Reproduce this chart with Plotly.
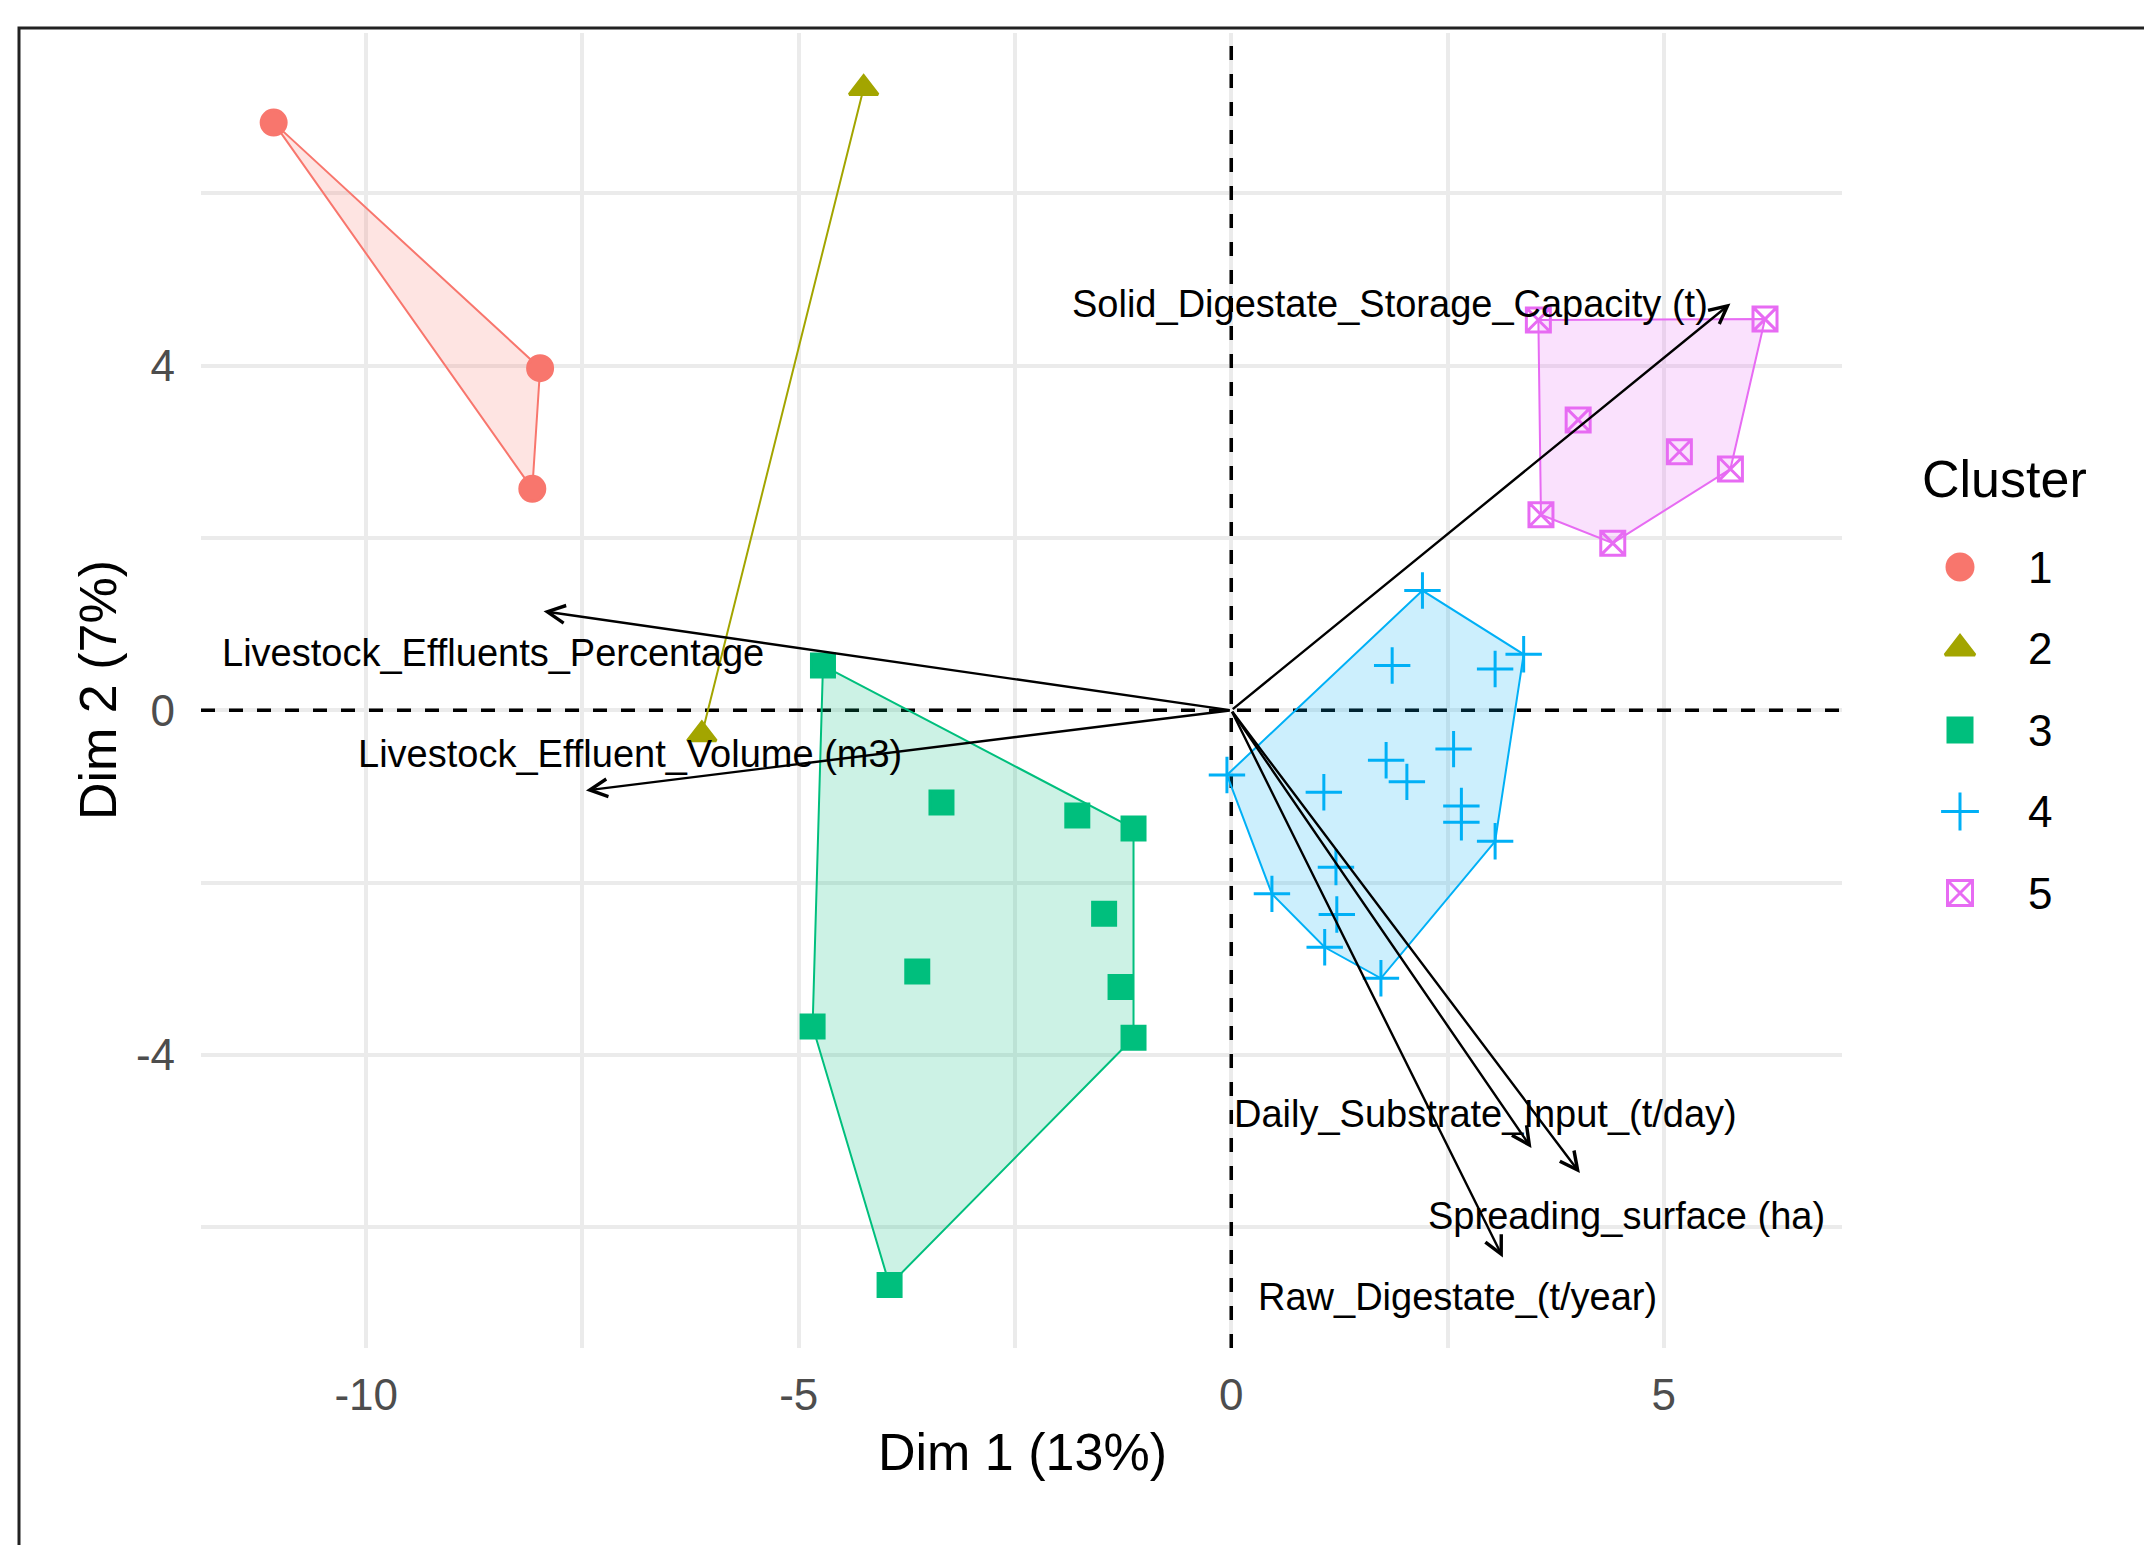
import plotly.graph_objects as go

# ---------------- data ----------------
cluster_ids = ["1", "2", "3", "4", "5"]
cluster_colors = ["#F8766D", "#A3A500", "#00BF7D", "#00B0F6", "#E76BF3"]
cluster_fills = ["rgba(248,118,109,0.2)", "rgba(163,165,0,0.2)", "rgba(0,191,125,0.2)",
                 "rgba(0,176,246,0.2)", "rgba(231,107,243,0.2)"]

c1_x = [-11.07, -7.99, -8.08]
c1_y = [6.82, 3.97, 2.57]
c2_x = [-4.25, -6.12]
c2_y = [7.22, -0.28]
c3_x = [-4.72, -3.35, -1.78, -1.13, -1.47, -3.63, -1.28, -4.84, -1.13, -3.95]
c3_y = [0.52, -1.07, -1.22, -1.37, -2.36, -3.03, -3.21, -3.67, -3.80, -6.67]
c4_x = [2.21, 1.86, 3.05, 3.38, 2.57, 1.79, 2.03, 1.07, -0.05, 2.66, 2.66, 3.05,
        1.21, 0.47, 1.22, 1.08, 1.73]
c4_y = [1.39, 0.52, 0.48, 0.65, -0.45, -0.58, -0.83, -0.95, -0.75, -1.11, -1.30, -1.52,
        -1.82, -2.13, -2.37, -2.75, -3.11]
c5_x = [3.55, 6.17, 4.01, 5.18, 5.77, 3.58, 4.41]
c5_y = [4.53, 4.54, 3.37, 3.00, 2.80, 2.27, 1.94]

var_names = ["Livestock_Effluents_Percentage", "Livestock_Effluent_Volume (m3)",
             "Solid_Digestate_Storage_Capacity (t)", "Daily_Substrate_Input_(t/day)",
             "Spreading_surface (ha)", "Raw_Digestate_(t/year)"]
var_dim1 = [-7.95, -7.46, 5.77, 3.47, 4.03, 3.14]
var_dim2 = [1.15, -0.93, 4.72, -5.08, -5.37, -6.35]
label_dim1 = [-8.54, -6.95, 1.84, 2.94, 4.57, 2.61]
label_dim2 = [0.67, -0.51, 4.72, -4.68, -5.87, -6.81]

x_ticks = [-10, -5, 0, 5]
x_ticklabels = ["-10", "-5", "0", "5"]
x_minor = [-7.5, -2.5, 2.5]
y_ticks = [-4, 0, 4]
y_ticklabels = ["-4", "0", "4"]
y_minor = [-6, -2, 2, 6]

x_range = [-11.91, 7.06]
y_range = [-7.40, 7.86]

x_title = "Dim 1 (13%)"
y_title = "Dim 2 (7%)"
legend_title = "Cluster"

# ---------------- styling ----------------
W, H = 2144, 1545
ML, MR, MT, MB = 201, 0, 33, 197
PW, PH = W - ML - MR, H - MT - MB
PANEL_RIGHT = 1842
FONT = "Liberation Sans, Arial, sans-serif"
GRID = "#EBEBEB"

symbols = ["circle", "triangle-up", "square", "cross-thin-open", "square-x-open"]
sizes = [25, 25, 23, 26, 24]


def px_x(p):
    return (p - ML) / PW


def px_y(p):
    return (H - MB - p) / PH


def convex_hull(xs, ys):
    pts = sorted(set(zip(xs, ys)))
    if len(pts) <= 2:
        return pts

    def cross(o, a, b):
        return (a[0] - o[0]) * (b[1] - o[1]) - (a[1] - o[1]) * (b[0] - o[0])

    lower = []
    for p in pts:
        while len(lower) >= 2 and cross(lower[-2], lower[-1], p) <= 0:
            lower.pop()
        lower.append(p)
    upper = []
    for p in reversed(pts):
        while len(upper) >= 2 and cross(upper[-2], upper[-1], p) <= 0:
            upper.pop()
        upper.append(p)
    return lower[:-1] + upper[:-1]


clusters_x = [c1_x, c2_x, c3_x, c4_x, c5_x]
clusters_y = [c1_y, c2_y, c3_y, c4_y, c5_y]

fig = go.Figure()

# dashed reference lines through the origin (drawn first, under the hulls)
fig.add_trace(go.Scatter(x=[0, 0], y=y_range, mode="lines",
                         line=dict(color="black", width=3.5, dash="14px,14px"),
                         showlegend=False, hoverinfo="skip"))
fig.add_trace(go.Scatter(x=x_range, y=[0, 0], mode="lines",
                         line=dict(color="black", width=3.5, dash="14px,14px"),
                         showlegend=False, hoverinfo="skip"))

# hulls
for i in range(5):
    hull = convex_hull(clusters_x[i], clusters_y[i])
    hx = [p[0] for p in hull] + [hull[0][0]]
    hy = [p[1] for p in hull] + [hull[0][1]]
    fig.add_trace(go.Scatter(x=hx, y=hy, mode="lines", fill="toself",
                             fillcolor=cluster_fills[i],
                             line=dict(color=cluster_colors[i], width=2),
                             showlegend=False, hoverinfo="skip"))

# points
for i in range(5):
    fig.add_trace(go.Scatter(
        x=clusters_x[i], y=clusters_y[i], mode="markers", name=cluster_ids[i],
        marker=dict(symbol=symbols[i], size=sizes[i], color=cluster_colors[i],
                    line=dict(color=cluster_colors[i], width=3)),
        showlegend=False))

# manual legend on an overlay axis measured in pixels
leg_y = [567, 648.5, 730, 811.5, 893]
for i in range(5):
    fig.add_trace(go.Scatter(
        x=[1960], y=[leg_y[i]], mode="markers", xaxis="x2", yaxis="y2",
        marker=dict(symbol=symbols[i], size=sizes[i] + 1, color=cluster_colors[i],
                    line=dict(color=cluster_colors[i], width=3)),
        showlegend=False, hoverinfo="skip"))

annotations = []
# variable arrows
for i in range(len(var_names)):
    annotations.append(dict(
        x=var_dim1[i], y=var_dim2[i], ax=0, ay=0, xref="x", yref="y",
        axref="x", ayref="y", text="", showarrow=True, arrowhead=5,
        arrowsize=1.45, arrowwidth=2.4, arrowcolor="black", standoff=0,
        startstandoff=0))
# variable labels
for i in range(len(var_names)):
    annotations.append(dict(
        x=label_dim1[i], y=label_dim2[i], xref="x", yref="y", text=var_names[i],
        showarrow=False, xanchor="center", yanchor="middle",
        font=dict(family=FONT, size=38, color="black")))
# axis titles
annotations.append(dict(x=px_x(1022), y=px_y(1452), xref="paper", yref="paper",
                        text=x_title, showarrow=False, xanchor="center",
                        yanchor="middle", font=dict(family=FONT, size=52, color="black")))
annotations.append(dict(x=px_x(98), y=px_y(690), xref="paper", yref="paper",
                        text=y_title, showarrow=False, xanchor="center",
                        yanchor="middle", textangle=-90,
                        font=dict(family=FONT, size=52, color="black")))
# legend texts
annotations.append(dict(x=1920, y=479, xref="x2", yref="y2", text=legend_title,
                        showarrow=False, xanchor="left", yanchor="middle",
                        font=dict(family=FONT, size=52, color="black")))
for i in range(5):
    annotations.append(dict(x=2026, y=leg_y[i], xref="x2", yref="y2",
                            text=cluster_ids[i], showarrow=False, xanchor="left",
                            yanchor="middle",
                            font=dict(family=FONT, size=44, color="black")))

shapes = [
    dict(type="rect", xref="paper", yref="paper", x0=px_x(19), x1=px_x(W + 50),
         y0=px_y(H + 50), y1=px_y(28), line=dict(color="#222222", width=3),
         fillcolor="rgba(0,0,0,0)", layer="above"),
]

fig.update_layout(
    width=W, height=H,
    margin=dict(l=ML, r=MR, t=MT, b=MB, pad=0),
    paper_bgcolor="white", plot_bgcolor="white",
    font=dict(family=FONT, color="#4D4D4D"),
    showlegend=False,
    xaxis=dict(domain=[0, px_x(PANEL_RIGHT)], range=x_range,
               tickmode="array", tickvals=x_ticks, ticktext=x_ticklabels,
               tickfont=dict(family=FONT, size=44, color="#4D4D4D"),
               showgrid=True, gridcolor=GRID, gridwidth=3.5, zeroline=False,
               showline=False, ticks="", ticklabelstandoff=17,
               minor=dict(tickvals=x_minor, showgrid=True, gridcolor=GRID,
                          gridwidth=3.5, ticks="")),
    yaxis=dict(domain=[0, 1], range=y_range,
               tickmode="array", tickvals=y_ticks, ticktext=y_ticklabels,
               tickfont=dict(family=FONT, size=44, color="#4D4D4D"),
               showgrid=True, gridcolor=GRID, gridwidth=3.5, zeroline=False,
               showline=False, ticks="", ticklabelstandoff=25,
               minor=dict(tickvals=y_minor, showgrid=True, gridcolor=GRID,
                          gridwidth=3.5, ticks="")),
    xaxis2=dict(domain=[px_x(1880), 1], range=[1880, W], visible=False,
                anchor="y2", fixedrange=True),
    yaxis2=dict(domain=[0, 1], range=[H - MB, MT], visible=False,
                anchor="x2", fixedrange=True),
    annotations=annotations,
    shapes=shapes,
)

fig.write_html("out.html", config={"displayModeBar": False},
               post_script="document.body.style.margin='0';")
